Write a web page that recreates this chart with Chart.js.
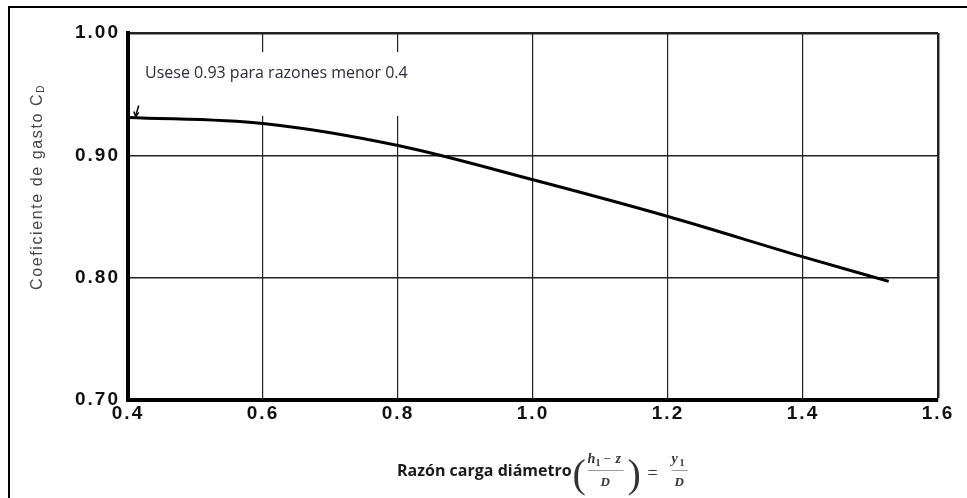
<!DOCTYPE html>
<html>
<head>
<meta charset="utf-8">
<script src="https://cdn.jsdelivr.net/npm/chart.js@4.4.0/dist/chart.umd.min.js"></script>
<style>
  html, body { margin: 0; padding: 0; background: #fff; }
  #wrap { width: 967px; height: 498px; position: relative; }
</style>
</head>
<body>
<div id="wrap"><canvas id="graficoCd" width="967" height="498"></canvas></div>
<script>
/*------------------------------*/
/*   DATOS: COEFICIENTE Cd      */
/*------------------------------*/
var razones = [0.4, 0.6, 0.8, 1.0, 1.2, 1.4, 1.527]
var coeficientes = [0.931, 0.926, 0.908, 0.880, 0.850, 0.817, 0.797]
var ticksX = [0.4, 0.6, 0.8, 1.0, 1.2, 1.4, 1.6]
var ticksY = [0.70, 0.80, 0.90, 1.00]
var nota = 'Usese 0.93 para razones menor 0.4'

var puntos = razones.map(function (r, i) { return { x: r, y: coeficientes[i] } })

var ctx_cd = document.getElementById('graficoCd').getContext('2d')

// textos extra: marco, nota, titulos de ejes
var textosPlugin = {
  id: 'textos',
  beforeDraw: function (chart) {
    // etiquetas de ejes un poco espaciadas, como en el escaneo
    chart.ctx.letterSpacing = '2px'
  },
  beforeDatasetsDraw: function (chart) {
    var c = chart.ctx
    c.letterSpacing = '0px'
    var xs = chart.scales.x, ys = chart.scales.y
    c.save()
    // caja blanca detras de la nota
    c.fillStyle = '#fff'
    c.fillRect(xs.left + 4, ys.top + 19, 292, 64)
    c.fillStyle = '#2b2b3a'
    c.font = '16px "Open Sans"'
    c.textBaseline = 'middle'
    c.fillText(nota, xs.left + 17, ys.top + 40)
    c.restore()
  },
  afterDraw: function (chart) {
    var c = chart.ctx
    var xs = chart.scales.x, ys = chart.scales.y
    c.save()
    c.letterSpacing = '0px'
    // marco exterior
    c.strokeStyle = '#000'
    c.lineWidth = 2
    c.beginPath()
    c.moveTo(9, 498); c.lineTo(9, 7); c.lineTo(967, 7)
    c.stroke()

    // flechita
    var ax = xs.getPixelForValue(0.41), ay = ys.getPixelForValue(0.931)
    c.lineWidth = 1.5
    c.beginPath()
    c.moveTo(ax + 4, ay - 12); c.lineTo(ax + 1, ay - 2)
    c.stroke()
    c.beginPath()
    c.moveTo(ax - 1, ay - 6); c.lineTo(ax + 1, ay - 1); c.lineTo(ax + 4, ay - 5)
    c.stroke()

    // titulo eje Y
    c.translate(38, 187)
    c.rotate(-Math.PI / 2)
    c.fillStyle = '#444'
    c.letterSpacing = '1.6px'
    c.textBaseline = 'middle'
    var ty = 'Coeficiente de gasto C'
    c.font = '16px "Liberation Sans"'
    var w = c.measureText(ty).width
    c.font = '10px "Liberation Sans"'
    var wd = c.measureText('D').width
    var x0 = -(w + wd) / 2
    c.font = '16px "Liberation Sans"'
    c.fillText(ty, x0, 0)
    c.font = '10px "Liberation Sans"'
    c.fillText('D', x0 + w, 3)
    c.restore()

    // titulo eje X
    c.save()
    c.letterSpacing = '0px'
    c.fillStyle = '#1a1a1a'
    c.textBaseline = 'alphabetic'
    c.font = 'bold 16px "Open Sans"'
    var tx = 'Razón carga diámetro'
    var bx = 397, by = 476
    c.fillText(tx, bx, by)
    var px = bx + c.measureText(tx).width + 1
    c.fillStyle = '#333'
    // parentesis
    c.font = '40px "Liberation Serif"'
    c.fillText('(', px, by + 11)
    // fraccion (h1 - z)/D
    var fx = px + 15
    c.font = 'italic bold 14px "Liberation Serif"'
    c.fillText('h', fx, 463)
    c.font = 'bold 10px "Liberation Serif"'
    c.fillText('1', fx + 8, 466)
    c.font = '14px "Liberation Serif"'
    c.fillText('\u2212', fx + 16, 463)
    c.font = 'italic bold 14px "Liberation Serif"'
    c.fillText('z', fx + 28, 463)
    c.fillStyle = '#999'
    c.fillRect(fx, 470, 36, 1)
    c.fillStyle = '#333'
    c.font = 'italic bold 13px "Liberation Serif"'
    c.fillText('D', fx + 13, 486)
    // cierre
    c.font = '40px "Liberation Serif"'
    c.fillText(')', fx + 40, by + 11)
    c.font = '18px "Liberation Serif"'
    c.fillText('=', fx + 60, 479)
    // y1/D
    var gx = fx + 84
    c.font = 'italic bold 14px "Liberation Serif"'
    c.fillText('y', gx, 463)
    c.font = 'bold 10px "Liberation Serif"'
    c.fillText('1', gx + 8, 466)
    c.fillStyle = '#999'
    c.fillRect(gx, 470, 16, 1)
    c.fillStyle = '#333'
    c.font = 'italic bold 13px "Liberation Serif"'
    c.fillText('D', gx + 3, 486)
    c.restore()
  }
}

var config_cd = {
  type: 'line',
  data: {
    datasets: [
      {
        label: 'Cd',
        data: puntos,
        borderColor: '#000',
        borderWidth: 3,
        pointRadius: 0,
        fill: false,
        cubicInterpolationMode: 'monotone'
      }
    ]
  },
  options: {
    responsive: false,
    animation: false,
    layout: { padding: { top: 33, right: 29, left: 0, bottom: 0 } },
    plugins: {
      legend: { display: false },
      tooltip: { enabled: false }
    },
    scales: {
      x: {
        type: 'linear',
        min: 0.4,
        max: 1.6,
        afterFit: function (s) { s.height = 98 },
        afterBuildTicks: function (s) { s.ticks = ticksX.map(function (v) { return { value: v } }) },
        ticks: {
          padding: 2,
          color: '#111',
          font: { family: '"Liberation Sans"', size: 19, weight: 'bold' },
          callback: function (v) { return Number(v).toFixed(1) }
        },
        grid: {
          drawTicks: false,
          color: '#222',
          lineWidth: function (c) { return c.tick && c.tick.value >= 1.6 ? 2.5 : 1.2 }
        },
        border: { display: true, color: '#000', width: 4 }
      },
      y: {
        min: 0.7,
        max: 1.0,
        afterFit: function (s) { s.width = 128 },
        afterBuildTicks: function (s) { s.ticks = ticksY.map(function (v) { return { value: v } }) },
        ticks: {
          padding: 8,
          color: '#111',
          font: { family: '"Liberation Sans"', size: 19, weight: 'bold' },
          callback: function (v) { return Number(v).toFixed(2) }
        },
        grid: {
          drawTicks: false,
          color: '#222',
          lineWidth: function (c) { return c.tick && c.tick.value >= 1.0 ? 2.5 : 1.4 }
        },
        border: { display: true, color: '#000', width: 4 }
      }
    }
  },
  plugins: [textosPlugin]
}

var grafico_cd = new Chart(ctx_cd, config_cd)
</script>
</body>
</html>
